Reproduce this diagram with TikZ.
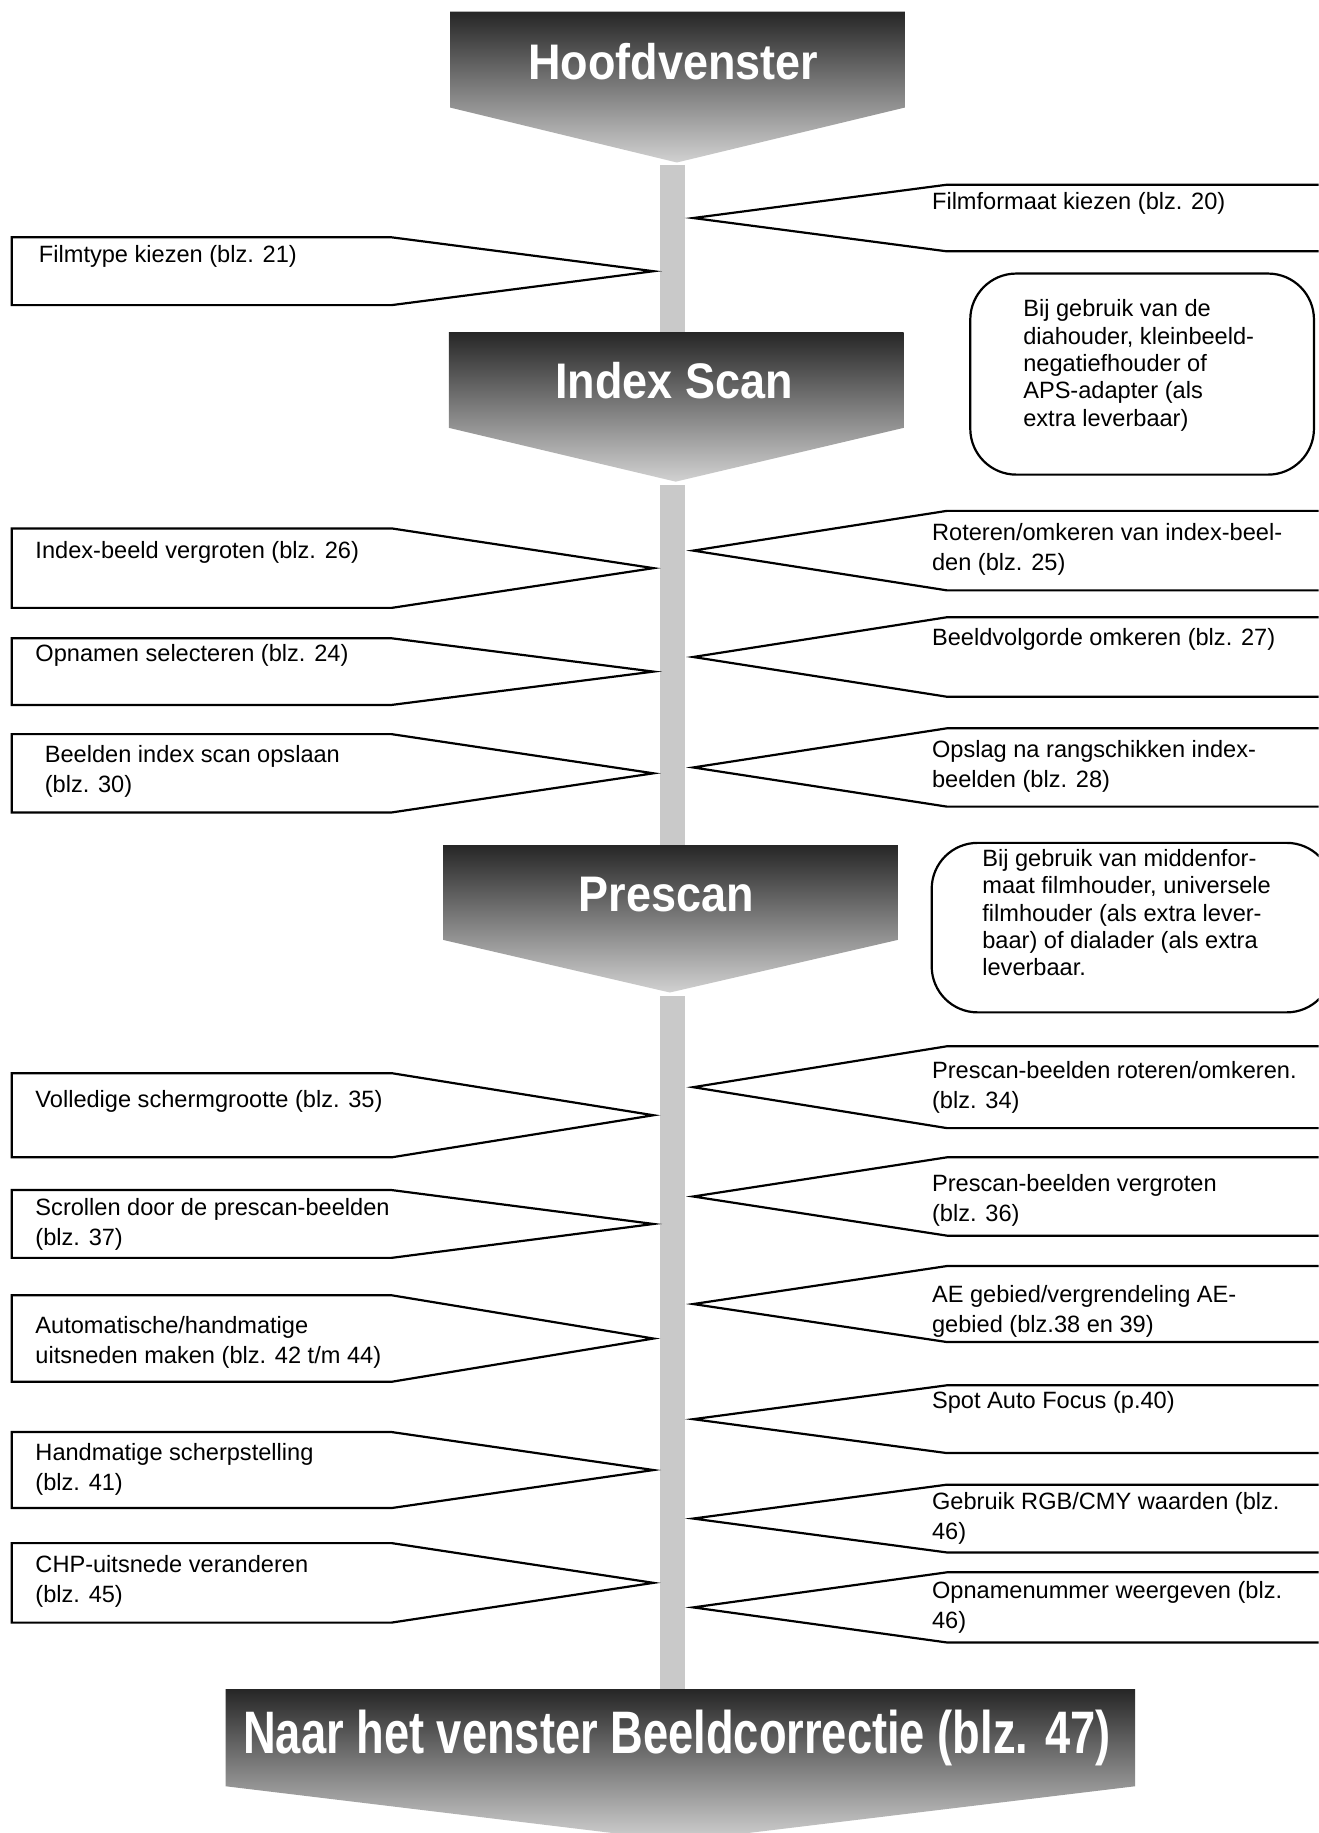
\documentclass[tikz,border=0pt]{standalone}
\usepackage{fontspec}
\setmainfont{Liberation Sans}
\newfontfamily\headfont[FakeStretch=0.90]{Liberation Sans}
\newfontfamily\condfont[FakeStretch=0.755]{Liberation Sans}

\begin{document}
\begin{tikzpicture}
[x={(0.5847pt,0)},y={(0,-0.5847pt)},
 head/.style={top color=black!85,bottom color=black!18},
 headtxt/.style={text=white,inner sep=0pt,anchor=base,font=\headfont\bfseries\fontsize{25}{30}\selectfont},
 bar/.style={draw=black!21,line width=12.3pt},
 callout/.style={draw=black,line width=1.1pt,fill=white},
 lbl/.style={inner sep=0pt,anchor=base west,align=left,font=\fontsize{11.8}{15}\selectfont},
 note/.style={draw=black,line width=1.1pt,rounded corners=23pt},
 notetxt/.style={inner sep=0pt,anchor=base west,align=left,font=\fontsize{11.8}{13.7}\selectfont}]
      \useasboundingbox (0,0) rectangle (1128,1568);
      \clip (0,0) rectangle (1128,1568);
      \fill[white] (0,0) rectangle (1128,1568);

      \coordinate (hoofd-end) at (575.5,141);
      \coordinate (index-top) at (575.5,284);
      \coordinate (index-end) at (575.5,415);
      \coordinate (prescan-top) at (575.5,723);
      \coordinate (prescan-end) at (575.5,852);
      \coordinate (beeld-top) at (575.5,1445);
      \draw[bar] (hoofd-end) -- (index-top);
      \draw[bar] (index-end) -- (prescan-top);
      \draw[bar] (prescan-end) -- (beeld-top);

      \shade[head] (385,10) -- (774,10) -- (774,92) -- (579,139) -- (385,92) -- cycle;
      \node[headtxt] (hoofdvenster) at (576,67.6) {Hoofdvenster};
      \shade[head] (384,284) -- (773,284) -- (773,366) -- (578,412) -- (384,366) -- cycle;
      \node[headtxt] (indexscan) at (576.5,341) {Index Scan};
      \shade[head] (379,723) -- (768,723) -- (768,804) -- (573,849) -- (379,804) -- cycle;
      \node[headtxt] (prescan) at (570,780) {Prescan};
      \shade[head] (193,1445) -- (971,1445) -- (971,1528) -- (582,1575) -- (193,1528) -- cycle;
      \node[headtxt,font=\condfont\bfseries\fontsize{30}{36}\selectfont] (beeldcorr) at (579,1500) {Naar het venster Beeldcorrectie (blz. 47)};

      % baseline of a node with \\ is that of its last line
      \draw[callout] (10,203) -- (335,203) -- (559,232) -- (335,261) -- (10,261) -- cycle;
      \node[lbl] (filmtype) at (33,224.5) {Filmtype kiezen (blz. 21)};
      \draw[callout] (10,452) -- (335,452) -- (559,486) -- (335,520) -- (10,520) -- cycle;
      \node[lbl] (indexvergroten) at (30,478) {Index-beeld vergroten (blz. 26)};
      \draw[callout] (10,546) -- (335,546) -- (559,574.5) -- (335,603) -- (10,603) -- cycle;
      \node[lbl] (selecteren) at (30,566) {Opnamen selecteren (blz. 24)};
      \draw[callout] (10,628) -- (335,628) -- (559,661.5) -- (335,695) -- (10,695) -- cycle;
      \node[lbl] (opslaan) at (38,677.6) {Beelden index scan opslaan\\(blz. 30)};
      \draw[callout] (10,918) -- (335,918) -- (559,954) -- (335,990) -- (10,990) -- cycle;
      \node[lbl] (schermgrootte) at (30,947.5) {Volledige schermgrootte (blz. 35)};
      \draw[callout] (10,1018) -- (335,1018) -- (559,1047) -- (335,1076) -- (10,1076) -- cycle;
      \node[lbl] (scrollen) at (30,1065.1) {Scrollen door de prescan-beelden\\(blz. 37)};
      \draw[callout] (10,1108) -- (335,1108) -- (559,1145) -- (335,1182) -- (10,1182) -- cycle;
      \node[lbl] (uitsneden) at (30,1166.1) {Automatische/handmatige\\uitsneden maken (blz. 42 t/m 44)};
      \draw[callout] (10,1225) -- (335,1225) -- (559,1257.5) -- (335,1290) -- (10,1290) -- cycle;
      \node[lbl] (scherpstelling) at (30,1275.1) {Handmatige scherpstelling\\(blz. 41)};
      \draw[callout] (10,1320) -- (335,1320) -- (559,1354) -- (335,1388) -- (10,1388) -- cycle;
      \node[lbl] (chp) at (30,1371.1) {CHP-uitsnede veranderen\\(blz. 45)};

      \draw[callout] (1140,158) -- (810,158) -- (593,186.5) -- (810,215) -- (1140,215) -- cycle;
      \node[lbl] (filmformaat) at (797,179.5) {Filmformaat kiezen (blz. 20)};
      \draw[callout] (1140,437) -- (810,437) -- (593,471) -- (810,505) -- (1140,505) -- cycle;
      \node[lbl] (roteren) at (797,488.1) {Roteren/omkeren van index-beel-\\den (blz. 25)};
      \draw[callout] (1140,528) -- (810,528) -- (593,562) -- (810,596) -- (1140,596) -- cycle;
      \node[lbl] (volgorde) at (797,552) {Beeldvolgorde omkeren (blz. 27)};
      \draw[callout] (1140,623) -- (810,623) -- (593,656.5) -- (810,690) -- (1140,690) -- cycle;
      \node[lbl] (rangschikken) at (797,673.6) {Opslag na rangschikken index-\\beelden (blz. 28)};
      \draw[callout] (1140,895) -- (810,895) -- (593,930) -- (810,965) -- (1140,965) -- cycle;
      \node[lbl] (prroteren) at (797,948.1) {Prescan-beelden roteren/omkeren.\\(blz. 34)};
      \draw[callout] (1140,990) -- (810,990) -- (593,1023.5) -- (810,1057) -- (1140,1057) -- cycle;
      \node[lbl] (prvergroten) at (797,1045.1) {Prescan-beelden vergroten\\(blz. 36)};
      \draw[callout] (1140,1083) -- (810,1083) -- (593,1115.5) -- (810,1148) -- (1140,1148) -- cycle;
      \node[lbl] (aegebied) at (797,1140.1) {AE gebied/vergrendeling AE-\\gebied (blz.38 en 39)};
      \draw[callout] (1140,1185) -- (810,1185) -- (593,1214) -- (810,1243) -- (1140,1243) -- cycle;
      \node[lbl] (spotaf) at (797,1204.5) {Spot Auto Focus (p.40)};
      \draw[callout] (1140,1270) -- (810,1270) -- (593,1299) -- (810,1328) -- (1140,1328) -- cycle;
      \node[lbl] (rgbcmy) at (797,1317.1) {Gebruik RGB/CMY waarden (blz.\\46)};
      \draw[callout] (1140,1345) -- (810,1345) -- (593,1375) -- (810,1405) -- (1140,1405) -- cycle;
      \node[lbl] (opnamenummer) at (797,1393.1) {Opnamenummer weergeven (blz.\\46)};

      \draw[note] (830,234) rectangle (1124,406);
      \node[notetxt] (kleinbeeld) at (875,364.7) {Bij gebruik van de\\diahouder, kleinbeeld-\\negatiefhouder of\\APS-adapter (als\\extra leverbaar)};
      \draw[note] (797,721) rectangle (1140,866);
      \node[notetxt] (middenformaat) at (840,834.7) {Bij gebruik van middenfor-\\maat filmhouder, universele\\filmhouder (als extra lever-\\baar) of dialader (als extra\\leverbaar.};
\end{tikzpicture}
\end{document}
